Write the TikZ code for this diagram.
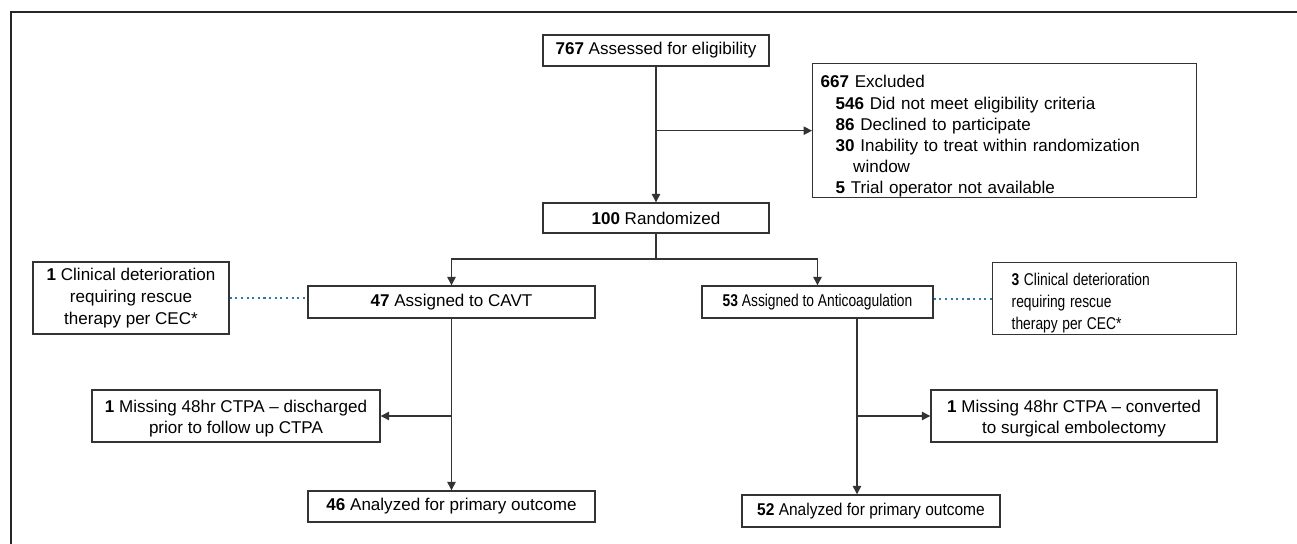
\documentclass[tikz,border=0pt]{standalone}
\usepackage{fontspec}
\usepackage{graphicx}
\setmainfont{Liberation Sans}
\usetikzlibrary{arrows.meta}
\definecolor{linegray}{HTML}{333333}
\definecolor{dotblue}{HTML}{2B7BA6}
\newcommand{\narrowtxt}[1]{\scalebox{0.81}[1]{#1}}
\newcommand{\semitxt}[1]{\scalebox{0.91}[1]{#1}}
\begin{document}
\begin{tikzpicture}[box/.style={draw=linegray, line width=0.8pt, inner sep=0pt, minimum height=0.62cm, align=center, font=\fontsize{9.7}{12}\selectfont},
  tallbox/.style={box, font=\fontsize{9.7}{12.5}\selectfont},
  flow/.style={draw=linegray, line width=0.75pt, -{Triangle[length=0.17cm, width=0.17cm]}},
  link/.style={draw=linegray, line width=0.75pt},
  dotlink/.style={draw=dotblue, line width=1.2pt, dotted}]
\useasboundingbox (0,0) rectangle (25.94,10.88);
\draw[line width=1.7pt, color=black!85] (0.22,0) -- (0.22,10.64) -- (25.94,10.64);
\node[box, minimum width=4.52cm] (assess) at (13.12,9.87) {\textbf{767} Assessed for eligibility};
\node[box, anchor=north west, minimum width=7.68cm, minimum height=2.68cm, align=left, inner xsep=0.16cm, text width=7.36cm] (excl) at (16.24,9.62) {\rule{0pt}{0.47cm}\textbf{667} Excluded\\
\hspace*{0.3cm}\textbf{546} Did not meet eligibility criteria\\
\hspace*{0.3cm}\textbf{86} Declined to participate\\
\hspace*{0.3cm}\textbf{30} Inability to treat within randomization\\
\hspace*{0.65cm}window\\
\hspace*{0.3cm}\textbf{5} Trial operator not available};
\node[box, minimum width=4.52cm, minimum height=0.6cm] (rand) at (13.12,6.52) {\textbf{100} Randomized};
\coordinate (split) at (13.12,5.7);
\node[box, minimum width=5.74cm, minimum height=0.64cm] (cavt) at (9.03,4.84) {\textbf{47} Assigned to CAVT};
\node[box, minimum width=4.62cm, minimum height=0.64cm] (anti) at (16.35,4.84) {\narrowtxt{\textbf{53} Assigned to Anticoagulation}};
\node[tallbox, minimum width=3.92cm, minimum height=1.44cm] (det1) at (2.62,4.92) {\textbf{1} Clinical deterioration\\requiring rescue\\therapy per CEC*};
\node[tallbox, anchor=north west, minimum width=4.88cm, minimum height=1.44cm, align=left, inner xsep=0.38cm, text width=4.12cm] (det3) at (19.84,5.64) {\rule{0pt}{0.41cm}\narrowtxt{\textbf{3} Clinical deterioration}\\\narrowtxt{requiring rescue}\\\narrowtxt{therapy per CEC*}};
\node[box, minimum width=5.76cm, minimum height=1.04cm] (miss1) at (4.72,2.56) {\rule{0pt}{0.36cm}\textbf{1} Missing 48hr CTPA – discharged\\prior to follow up CTPA};
\node[box, minimum width=5.72cm, minimum height=1.04cm] (miss2) at (21.48,2.56) {\rule{0pt}{0.36cm}\textbf{1} Missing 48hr CTPA – converted\\to surgical embolectomy};
\node[box, minimum width=5.74cm] (an46) at (9.03,0.75) {\textbf{46} Analyzed for primary outcome};
\node[box, minimum width=5.16cm, minimum height=0.64cm] (an52) at (17.42,0.66) {\semitxt{\textbf{52} Analyzed for primary outcome}};
\coordinate (rline) at (17.14,0);
\draw[flow] (assess) -- (rand);
\draw[flow] (excl.west -| assess.south) -- (excl.west);
\draw[link] (rand) -- (split);
\draw[flow] (split) -| (cavt.north);
\draw[flow] (split) -| (anti.north);
\draw[dotlink] (det1.east) -- (det1.east -| cavt.west);
\draw[dotlink] (det3.west) -- (det3.west -| anti.east);
\draw[flow] (cavt) -- (an46);
\draw[flow] (cavt.south |- miss1.east) -- (miss1.east);
\draw[flow] (rline |- anti.south) -- (rline |- an52.north);
\draw[flow] (rline |- miss2.west) -- (miss2.west);
\end{tikzpicture}
\end{document}
